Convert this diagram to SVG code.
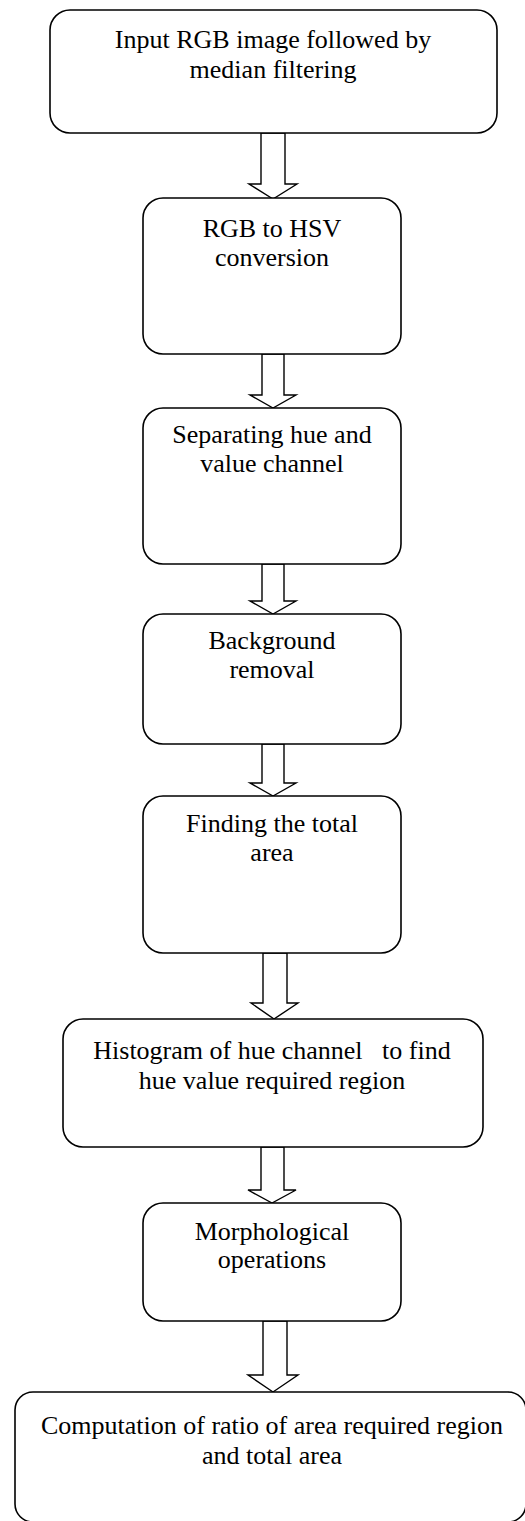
<svg xmlns="http://www.w3.org/2000/svg" width="525" height="1521" viewBox="0 0 525 1521">
<style>
.box{fill:#fff;stroke:#000;stroke-width:1.6}
.arr{fill:#fff;stroke:#000;stroke-width:1.4;stroke-linejoin:miter}
text{font-family:"Liberation Serif","Times New Roman",serif;font-size:26px;fill:#000;text-anchor:middle}
</style>
<rect width="525" height="1521" fill="#fff"/>
<g id="connectors">
<polygon class="arr" points="261,133 285,133 285,184 297,184 273,199 249,184 261,184"/>
<polygon class="arr" points="262,354 284,354 284,395 296,395 273,408 250,395 262,395"/>
<polygon class="arr" points="262,564 284,564 284,601 296,601 273,614 250,601 262,601"/>
<polygon class="arr" points="262,744 284,744 284,783 296,783 273,796 250,783 262,783"/>
<polygon class="arr" points="263,953 287,953 287,1003 298,1003 274,1019 251,1003 263,1003"/>
<polygon class="arr" points="261,1147 284,1147 284,1190 296,1190 272,1203 248,1190 261,1190"/>
<polygon class="arr" points="263,1321 287,1321 287,1375 298,1375 273,1392 248,1375 263,1375"/>
</g>
<g id="n1"><rect class="box" x="50" y="10" width="447" height="123" rx="20"/>
<text x="273" y="48">Input RGB image followed by</text><text x="273" y="78">median filtering</text></g>
<g id="n2"><rect class="box" x="143" y="198" width="258" height="156" rx="20"/>
<text x="272" y="237">RGB to HSV</text><text x="272" y="266">conversion</text></g>
<g id="n3"><rect class="box" x="143" y="408" width="258" height="156" rx="20"/>
<text x="272" y="443">Separating hue and</text><text x="272" y="472">value channel</text></g>
<g id="n4"><rect class="box" x="143" y="614" width="258" height="130" rx="20"/>
<text x="272" y="649">Background</text><text x="272" y="678">removal</text></g>
<g id="n5"><rect class="box" x="143" y="796" width="258" height="157" rx="20"/>
<text x="272" y="832">Finding the total</text><text x="272" y="861">area</text></g>
<g id="n6"><rect class="box" x="63" y="1019" width="420" height="128" rx="20"/>
<text x="272" y="1059" xml:space="preserve">Histogram of hue channel   to find</text><text x="272" y="1089">hue value required region</text></g>
<g id="n7"><rect class="box" x="143" y="1203" width="258" height="118" rx="20"/>
<text x="272" y="1240">Morphological</text><text x="272" y="1268">operations</text></g>
<g id="n8"><rect class="box" x="15" y="1392" width="511" height="130" rx="18"/>
<text x="272" y="1434">Computation of ratio of area required region</text><text x="272" y="1464">and total area</text></g>
</svg>
